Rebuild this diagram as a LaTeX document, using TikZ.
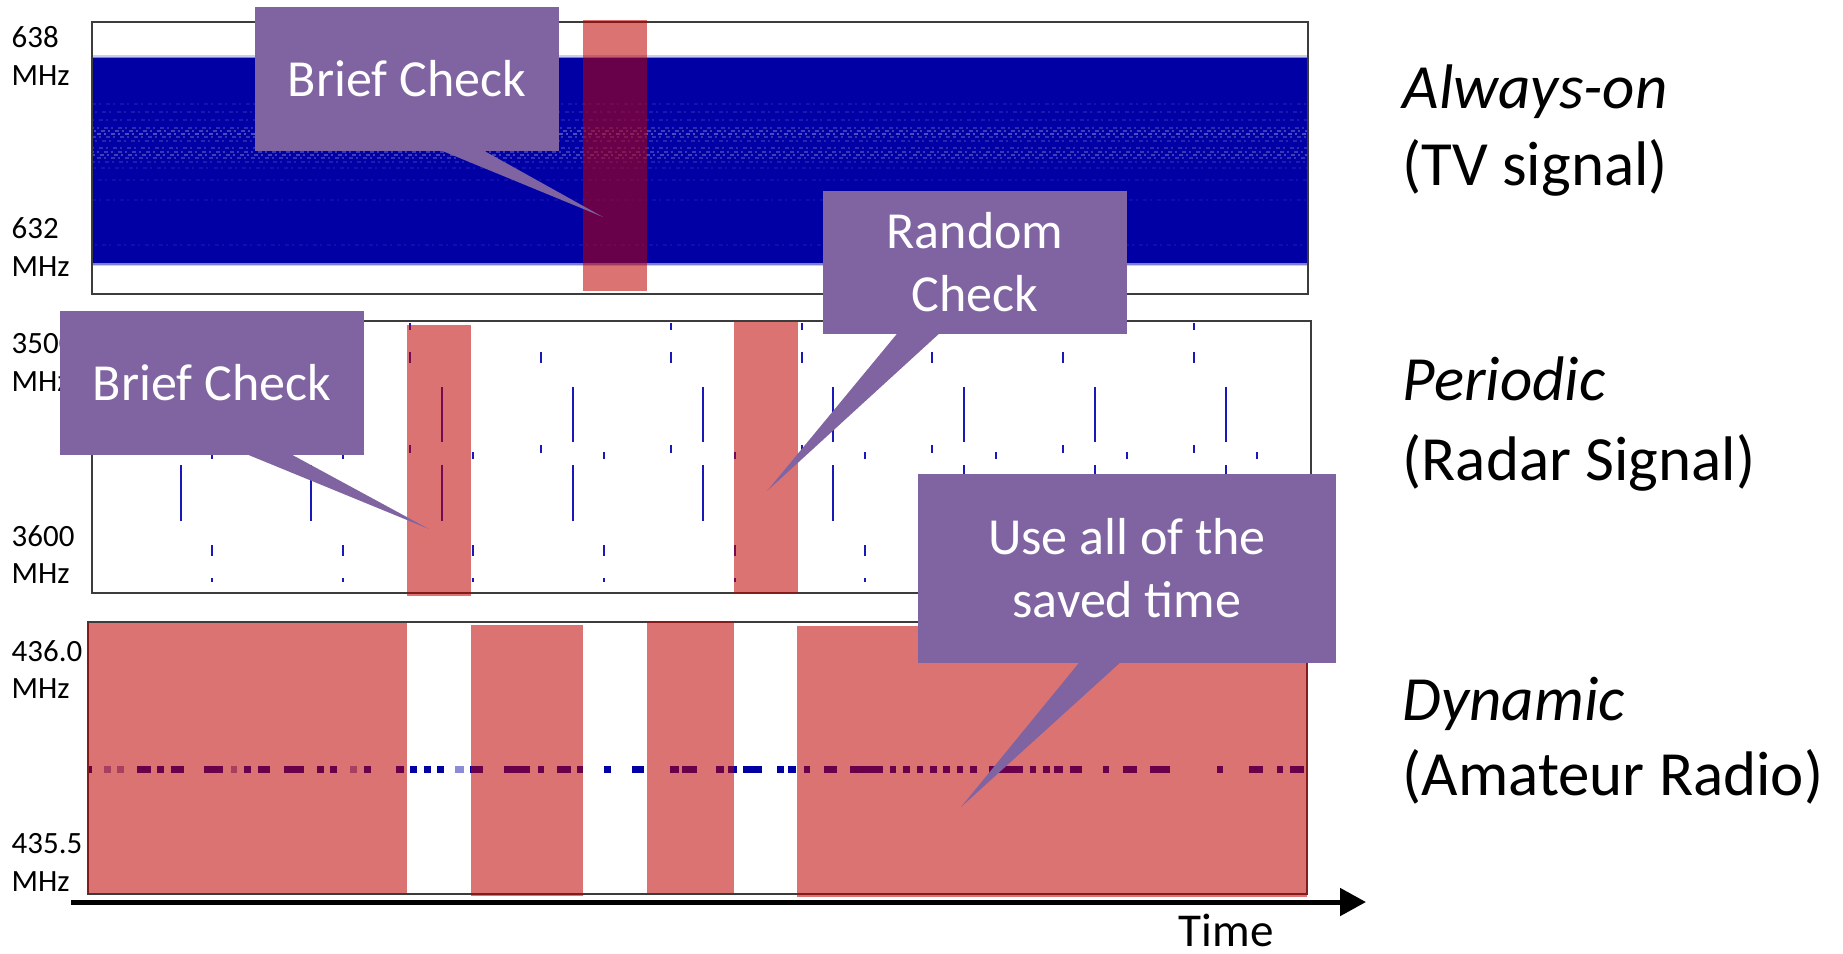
\documentclass[tikz,border=0pt]{standalone}
\usepackage{fontspec}
\setmainfont{Carlito}
\usetikzlibrary{arrows.meta,calc}
\definecolor{callfill}{HTML}{8064A2}
\definecolor{sigblue}{RGB}{0,0,165}
\definecolor{pulseblue}{RGB}{25,25,185}
\definecolor{checkred}{RGB}{192,0,0}
\definecolor{framegray}{RGB}{60,60,60}
\tikzset{
 frame/.style={draw=framegray,line width=0.02cm},
 chk/.style={fill=checkred,fill opacity=0.55},
 callbox/.style={fill=callfill,text=white,inner sep=0,align=center,font=\fontsize{14.8}{17.9}\selectfont},
 ptr/.style={fill=callfill},
 ylab/.style={inner sep=0,anchor=base west,font=\fontsize{8.8}{10.8}\selectfont},
 rlab/.style={inner sep=0,anchor=base west,font=\fontsize{17.9}{20.5}\selectfont},
 pulse/.style={draw=pulseblue,line width=0.025cm},
 sig/.style={fill=sigblue},
 streak/.style={draw=white,line width=0.015cm},
}
\begin{document}
\begin{tikzpicture}[x=0.01cm,y=-0.01cm]
\useasboundingbox (0,0) rectangle (1843,953);
% ---------- panel 1: always-on ----------
\fill[sigblue] (92,58) rectangle (1308,263);
\fill[sigblue,opacity=0.5] (92,56.5) rectangle (1308,58);
\fill[sigblue,opacity=0.2] (92,55) rectangle (1308,56.5);
\fill[sigblue,opacity=0.5] (92,263) rectangle (1308,264.5);
\fill[sigblue,opacity=0.2] (92,264.5) rectangle (1308,266);
\foreach \yy/\op/\ph in {104/0.08/0,112/0.10/1,120/0.10/2,128/0.18/0.5,131/0.25/1.5,134/0.30/2.5,137/0.20/0,141/0.15/1,148/0.18/2,152/0.22/0.7,155/0.25/1.7,158/0.20/2.7,162/0.12/0.3,168/0.08/1.3,180/0.06/2.3,200/0.05/0,245/0.06/1}
  \draw[streak,opacity=\op,dash pattern=on 0.04cm off 0.03cm on 0.02cm off 0.05cm,dash phase=\ph pt] (92,\yy) -- (1308,\yy);
\draw[frame] (92,22) rectangle (1308,294);
\fill[chk] (583,20) rectangle (647,291);
% ---------- panel 2: periodic ----------
\foreach \x in {149,279,410,541,671,802,932,1063,1194} {
  \draw[pulse] (\x,352) -- (\x,363);
  \draw[pulse] (\x,445) -- (\x,453);
}
\foreach \x in {410,671,802,1194} \draw[pulse] (\x,323) -- (\x,330);
\foreach \x in {181,311,442,573,703,833,964,1095,1226} {
  \draw[pulse] (\x,387) -- (\x,442);
  \draw[pulse] (\x,465) -- (\x,521);
}
\foreach \x in {212,343,473,604,735,865,996,1127,1257} \draw[pulse] (\x,452) -- (\x,459);
\foreach \x in {212,343,473,604,735,865,996,1127} {
  \draw[pulse] (\x,545) -- (\x,556);
  \draw[pulse] (\x,578) -- (\x,582);
}
\draw[frame] (92,321) rectangle (1311,593);
\fill[chk] (407,325) rectangle (471,596);
\fill[chk] (734,322) rectangle (798,593);
% ---------- panel 3: dynamic ----------
\foreach \a/\b in {87/92,137/151,157/164,171/184,204/223,244/251,258/270,284/304,317/324,330/337,364/371,396/404,410/417,424/431,437/444,470/483,504/530,538/544,557/571,577/583,604/611,632/644,670/679,682/697,716/724,728/737,743/762,777/784,788/796,804/810,824/837,850/883,890/896,903/910,917/923,930/937,943/950,957/963,970/977,989/996,998/1023,1030/1036,1043/1050,1054/1063,1070/1082,1103/1109,1123/1137,1150/1170,1217/1223,1249/1263,1277/1283,1290/1304}
  \fill[sig] (\a,766) rectangle (\b,773);
\foreach \a/\b in {104/111,117/124,231/237,350/357,455/464}
  \fill[sig,opacity=0.45] (\a,766) rectangle (\b,773);
\draw[frame] (88,622) rectangle (1307,894);
\fill[chk] (88,623) rectangle (407,894);
\fill[chk] (471,625) rectangle (583,896);
\fill[chk] (647,622) rectangle (734,894);
\fill[chk] (797,626) rectangle (1307,897);
% ---------- axis labels ----------
\node[ylab] (f1a) at (11,47) {638};
\node[ylab] (f1b) at (11,85) {MHz};
\node[ylab] (f2a) at (11,238) {632};
\node[ylab] (f2b) at (11,276) {MHz};
\node[ylab] (f3a) at (11,353) {3500};
\node[ylab] (f3b) at (11,391) {MHz};
\node[ylab] (f4a) at (11,546) {3600};
\node[ylab] (f4b) at (11,583) {MHz};
\node[ylab] (f5a) at (11,661) {436.0};
\node[ylab] (f5b) at (11,698) {MHz};
\node[ylab] (f6a) at (11,853) {435.5};
\node[ylab] (f6b) at (11,891) {MHz};
% ---------- time axis ----------
\coordinate (ax0) at (71,902);
\coordinate (ax1) at (1366,902);
\draw[line width=0.05cm,-{Triangle[length=0.26cm,width=0.27cm]}] (ax0) -- (ax1);
\node[inner sep=0,anchor=base west,font=\fontsize{13.4}{16}\selectfont] (time) at (1178,946) {Time};
% ---------- callouts ----------
\node[callbox,minimum width=3.04cm,minimum height=1.44cm] (bc1) at (407,79) {Brief Check};
\coordinate (t1) at (603,217);
\fill[ptr] ($(bc1.south)+(35,-1)$) -- (t1) -- ($(bc1.south)+(77,-1)$) -- cycle;
\node[callbox,minimum width=3.04cm,minimum height=1.44cm] (bc2) at (212,383) {Brief Check};
\coordinate (t2) at (429,529);
\fill[ptr] ($(bc2.south)+(36,-1)$) -- (t2) -- ($(bc2.south)+(80,-1)$) -- cycle;
\node[callbox,minimum width=3.04cm,minimum height=1.43cm] (rc) at (975,262.5) {Random\\Check};
\coordinate (t3) at (767,491);
\fill[ptr] ($(rc.south)+(-78,-1)$) -- (t3) -- ($(rc.south)+(-36,-1)$) -- cycle;
\node[callbox,minimum width=4.18cm,minimum height=1.89cm] (ua) at (1127,568.5) {Use all of the\\saved time};
\coordinate (t4) at (961,807);
\fill[ptr] ($(ua.south)+(-48,-1)$) -- (t4) -- ($(ua.south)+(-7,-1)$) -- cycle;
% ---------- right labels ----------
\node[rlab] (l1a) at (1402,108) {\itshape Always-on};
\node[rlab] (l1b) at (1402,185) {(TV signal)};
\node[rlab] (l2a) at (1402,400) {\itshape Periodic};
\node[rlab] (l2b) at (1402,480) {(Radar Signal)};
\node[rlab] (l3a) at (1402,720) {\itshape Dynamic};
\node[rlab] (l3b) at (1402,795) {(Amateur Radio)};
\end{tikzpicture}
\end{document}
